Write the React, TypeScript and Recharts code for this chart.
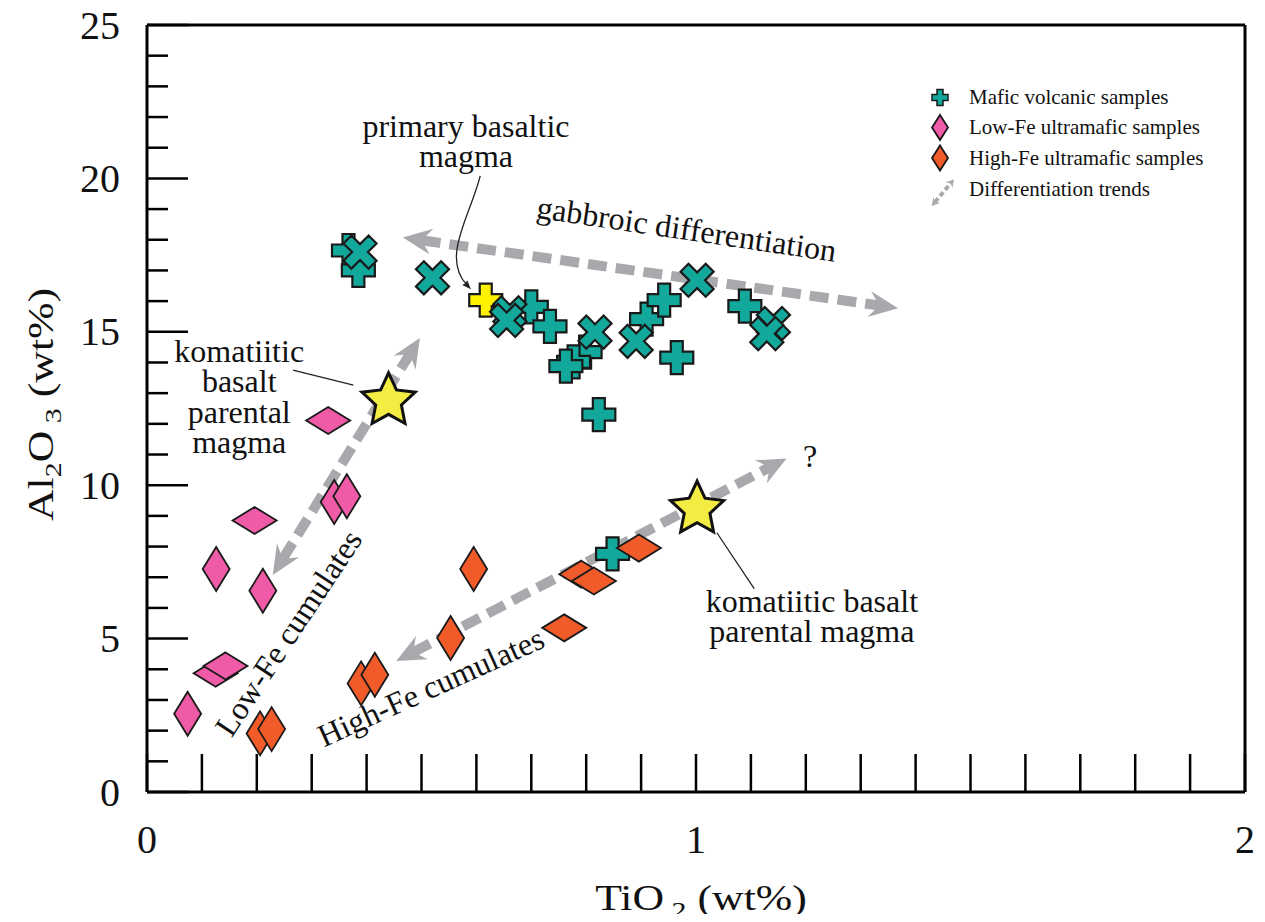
import { ScatterChart, Scatter, XAxis, YAxis, ReferenceLine, ReferenceDot } from 'recharts'

// axis ticks
const xTicks = [0, 0.1, 0.2, 0.3, 0.4, 0.5, 0.6, 0.7, 0.8, 0.9, 1, 1.1, 1.2, 1.3, 1.4, 1.5, 1.6, 1.7, 1.8, 1.9, 2]
const yTicks = [0, 1, 2, 3, 4, 5, 6, 7, 8, 9, 10, 11, 12, 13, 14, 15, 16, 17, 18, 19, 20, 21, 22, 23, 24, 25]
const xLabels = [0, 1, 2]
const yLabels = [0, 5, 10, 15, 20, 25]

// mafic volcanic samples, plus-shaped
const maficPlus = [
  { ti: 0.367, al: 17.65 },
  { ti: 0.385, al: 17.0 },
  { ti: 0.7, al: 15.81 },
  { ti: 0.734, al: 15.18 },
  { ti: 0.798, al: 14.34 },
  { ti: 0.777, al: 14.02 },
  { ti: 0.763, al: 13.88 },
  { ti: 0.823, al: 12.3 },
  { ti: 0.91, al: 15.41 },
  { ti: 0.942, al: 16.03 },
  { ti: 0.965, al: 14.16 },
  { ti: 1.089, al: 15.84 },
  { ti: 0.848, al: 7.76 },
]

// mafic volcanic samples, x-shaped
const maficCross = [
  { ti: 0.388, al: 17.6 },
  { ti: 0.52, al: 16.76 },
  { ti: 0.661, al: 15.62 },
  { ti: 0.655, al: 15.37 },
  { ti: 0.816, al: 14.99 },
  { ti: 0.891, al: 14.69 },
  { ti: 1.002, al: 16.68 },
  { ti: 1.141, al: 15.27 },
  { ti: 1.129, al: 14.94 },
]

const primaryMagma = [{ ti: 0.617, al: 16.03 }]
const parentalMagmas = [
  { ti: 0.44, al: 12.75 },
  { ti: 1.002, al: 9.22 },
]

const lowFeTall = [
  { ti: 0.341, al: 9.45 },
  { ti: 0.364, al: 9.64 },
  { ti: 0.126, al: 7.27 },
  { ti: 0.211, al: 6.56 },
  { ti: 0.074, al: 2.55 },
]
const lowFeWide = [
  { ti: 0.33, al: 12.11 },
  { ti: 0.196, al: 8.85 },
  { ti: 0.125, al: 3.87 },
  { ti: 0.143, al: 4.11 },
]
const highFeTall = [
  { ti: 0.595, al: 7.27 },
  { ti: 0.553, al: 5.02 },
  { ti: 0.39, al: 3.54 },
  { ti: 0.415, al: 3.82 },
  { ti: 0.206, al: 1.91 },
  { ti: 0.227, al: 2.05 },
]
const highFeWide = [
  { ti: 0.76, al: 5.35 },
  { ti: 0.791, al: 7.1 },
  { ti: 0.814, al: 6.88 },
  { ti: 0.896, al: 7.95 },
]

// differentiation trends (both ends arrowed)
const trends = [
  { from: { x: 0.466, y: 18.07 }, to: { x: 1.368, y: 15.77 } },
  { from: { x: 0.229, y: 7.07 }, to: { x: 0.497, y: 14.8 } },
  { from: { x: 0.454, y: 4.27 }, to: { x: 1.165, y: 10.87 } },
]

const leaders = [
  { from: { x: 0.266, y: 13.75 }, to: { x: 0.376, y: 13.26 } },
  { from: { x: 1.038, y: 8.45 }, to: { x: 1.106, y: 6.63 } },
]
const curvedLeader = { from: { x: 0.607, y: 20.08 }, to: { x: 0.59, y: 16.39 } }

const notes = [
  { ti: 0.581, al: 21.35, lines: ['primary basaltic', 'magma'], angle: 0 },
  { ti: 0.168, al: 14.03, lines: ['komatiitic', 'basalt', 'parental', 'magma'], angle: 0 },
  { ti: 1.211, al: 5.88, lines: ['komatiitic basalt', 'parental magma'], angle: 0 },
  { ti: 1.208, al: 10.59, lines: ['?'], angle: 0 },
  { ti: 0.98, al: 18.0, lines: ['gabbroic differentiation'], angle: 8.4 },
  { ti: 0.274, al: 4.99, lines: ['Low-Fe cumulates'], angle: -56.5 },
  { ti: 0.525, al: 3.1, lines: ['High-Fe cumulates'], angle: -24.4 },
]

const TEAL = '#13A89C'
const PINK = '#EF5BA6'
const ORANGE = '#F15A29'
const STAR = '#F2EC43'
const GREY = '#A7A9AC'
const FONT = '"Liberation Serif", serif'

function plusPoints(a: number, w: number) {
  return [
    [-a, -w], [-w, -w], [-w, -a], [w, -a], [w, -w], [a, -w],
    [a, w], [w, w], [w, a], [-w, a], [-w, w], [-a, w],
  ].map(p => p.join(',')).join(' ')
}

function PlusMark({ cx, cy, fill = TEAL }: { cx?: number; cy?: number; fill?: string }) {
  if (cx == null || cy == null) return null
  return (
    <polygon
      points={plusPoints(16.5, 6)}
      transform={`translate(${cx},${cy})`}
      fill={fill}
      stroke="#1a1a1a"
      strokeWidth={2.2}
    />
  )
}

function CrossMark({ cx, cy }: { cx?: number; cy?: number }) {
  if (cx == null || cy == null) return null
  return (
    <polygon
      points={plusPoints(17.8, 5.6)}
      transform={`translate(${cx},${cy}) rotate(45)`}
      fill={TEAL}
      stroke="#1a1a1a"
      strokeWidth={2.2}
    />
  )
}

function Diamond({ cx, cy, w, h, fill }: { cx?: number; cy?: number; w: number; h: number; fill: string }) {
  if (cx == null || cy == null) return null
  return (
    <polygon
      points={`${cx},${cy - h / 2} ${cx + w / 2},${cy} ${cx},${cy + h / 2} ${cx - w / 2},${cy}`}
      fill={fill}
      stroke="#1a1a1a"
      strokeWidth={1.8}
    />
  )
}

function StarMark({ cx, cy }: { cx?: number; cy?: number }) {
  if (cx == null || cy == null) return null
  const pts: string[] = []
  for (let i = 0; i < 10; i++) {
    const r = i % 2 === 0 ? 28 : 13.5
    const a = (Math.PI / 5) * i - Math.PI / 2
    pts.push(`${cx + r * Math.cos(a)},${cy + r * Math.sin(a)}`)
  }
  return <polygon points={pts.join(' ')} fill={STAR} stroke="#111" strokeWidth={3} />
}

function arrowHead(tx: number, ty: number, ux: number, uy: number, L: number, W: number, notch: number) {
  const nx = -uy
  const ny = ux
  const bx = tx - ux * L
  const by = ty - uy * L
  const mx = tx - ux * (L - notch)
  const my = ty - uy * (L - notch)
  return `${tx},${ty} ${bx + nx * W},${by + ny * W} ${mx},${my} ${bx - nx * W},${by - ny * W}`
}

function TrendArrow(props: { x1?: number; y1?: number; x2?: number; y2?: number; small?: boolean }) {
  const { x1, y1, x2, y2, small } = props
  if (x1 == null || y1 == null || x2 == null || y2 == null) return null
  const len = Math.hypot(x2 - x1, y2 - y1)
  const ux = (x2 - x1) / len
  const uy = (y2 - y1) / len
  const L = small ? 8 : 29
  const W = small ? 4.5 : 13
  const notch = small ? 3 : 10
  const back = L - notch
  return (
    <g>
      <line
        x1={x1 + ux * back}
        y1={y1 + uy * back}
        x2={x2 - ux * back}
        y2={y2 - uy * back}
        stroke={GREY}
        strokeWidth={small ? 4 : 10}
        strokeDasharray={small ? '5 3' : '19 9'}
      />
      <polygon points={arrowHead(x2, y2, ux, uy, L, W, notch)} fill={GREY} />
      <polygon points={arrowHead(x1, y1, -ux, -uy, L, W, notch)} fill={GREY} />
    </g>
  )
}

function CurvedLeader({ x1, y1, x2, y2 }: { x1?: number; y1?: number; x2?: number; y2?: number }) {
  if (x1 == null || y1 == null || x2 == null || y2 == null) return null
  const c1x = x1 - 10
  const c1y = y1 + 40
  const c2x = x2 - 30
  const c2y = y2 - 32
  const len = Math.hypot(x2 - c2x, y2 - c2y)
  const ux = (x2 - c2x) / len
  const uy = (y2 - c2y) / len
  return (
    <g>
      <path d={`M${x1},${y1} C${c1x},${c1y} ${c2x},${c2y} ${x2 - ux * 6},${y2 - uy * 6}`} fill="none" stroke="#222" strokeWidth={1.3} />
      <polygon points={arrowHead(x2, y2, ux, uy, 9, 3.5, 1)} fill="#222" />
    </g>
  )
}

function Note({ cx, cy, lines, angle }: { cx?: number; cy?: number; lines: string[]; angle: number }) {
  if (cx == null || cy == null) return null
  return (
    <text
      x={cx}
      y={cy}
      textAnchor="middle"
      fontFamily={FONT}
      fontSize={32}
      fill="#111"
      transform={angle ? `rotate(${angle} ${cx} ${cy})` : undefined}
    >
      {lines.map((l, i) => (
        <tspan key={i} x={cx} dy={i === 0 ? 0 : 30.5}>
          {l}
        </tspan>
      ))}
    </text>
  )
}

type TickProps = { x?: number; y?: number; payload?: { value: number } }

function BottomTick({ x = 0, y = 0, payload }: TickProps) {
  const v = payload?.value ?? 0
  return (
    <g>
      <line x1={x} y1={y} x2={x} y2={y - 38} stroke="#000" strokeWidth={2.5} />
      {xLabels.includes(v) && (
        <text x={x} y={y + 61} textAnchor="middle" fontFamily={FONT} fontSize={40} fill="#111">
          {v}
        </text>
      )}
    </g>
  )
}

function TopTick({ x = 0, y = 0 }: TickProps) {
  return <line x1={x} y1={y} x2={x} y2={y + 38} stroke="#000" strokeWidth={2.5} />
}

function LeftTick({ x = 0, y = 0, payload }: TickProps) {
  const v = payload?.value ?? 0
  const major = yLabels.includes(v)
  return (
    <g>
      <line x1={x} y1={y} x2={x + (major ? 41 : 21)} y2={y} stroke="#000" strokeWidth={2.5} />
      {major && (
        <text x={x - 27} y={y + 13.5} textAnchor="end" fontFamily={FONT} fontSize={40} fill="#111">
          {v}
        </text>
      )}
    </g>
  )
}

function RightTick({ x = 0, y = 0, payload }: TickProps) {
  const v = payload?.value ?? 0
  const major = yLabels.includes(v)
  return <line x1={x} y1={y} x2={x - (major ? 41 : 21)} y2={y} stroke="#000" strokeWidth={2.5} />
}

function XTitle({ viewBox }: { viewBox?: { x: number; y: number; width: number; height: number } }) {
  if (!viewBox) return null
  const cx = viewBox.x + viewBox.width / 2 + 5
  const by = viewBox.y + 118
  return (
    <text transform={`translate(${cx},${by}) scale(1.25,1)`} textAnchor="middle" fontFamily={FONT} fontSize={35} fill="#111">
      TiO
      <tspan fontSize={24} dy={8}> 2</tspan>
      <tspan dy={-8}> (wt%)</tspan>
    </text>
  )
}

function YTitle({ viewBox }: { viewBox?: { x: number; y: number; width: number; height: number } }) {
  if (!viewBox) return null
  const cy = viewBox.y + viewBox.height / 2 - 4
  return (
    <text transform={`translate(45,${cy}) rotate(-90) scale(1.25,1)`} textAnchor="middle" fontFamily={FONT} fontSize={35} fill="#111">
      Al
      <tspan fontSize={24} dy={8}>2</tspan>
      <tspan dy={-8}>O</tspan>
      <tspan fontSize={24} dy={8}> 3</tspan>
      <tspan dy={-8}> (wt%)</tspan>
    </text>
  )
}

function LegendBox() {
  const rows = [
    'Mafic volcanic samples',
    'Low-Fe ultramafic samples',
    'High-Fe ultramafic samples',
    'Differentiation trends',
  ]
  return (
    <svg width={320} height={140} style={{ position: 'absolute', left: 900, top: 75 }}>
      <polygon points={plusPoints(8, 3)} transform="translate(32,14.5)" fill={TEAL} stroke="#1a1a1a" strokeWidth={1.5} />
      <Diamond cx={32} cy={44.5} w={16} h={25} fill={PINK} />
      <Diamond cx={32} cy={75} w={16} h={25} fill={ORANGE} />
      <TrendArrow x1={23.7} y1={123} x2={46} y2={96.3} small />
      {rows.map(r => r).map((r, i) => (
        <text key={r} x={61} y={20.5 + i * 30.8} fontFamily={FONT} fontSize={21} fill="#111">
          {r}
        </text>
      ))}
    </svg>
  )
}

export default function App() {
  return (
    <div style={{ position: 'relative', width: 1249, height: 906 }}>
      <ScatterChart width={1249} height={914} margin={{ top: 0, right: 0, bottom: 0, left: 0 }}>
        <XAxis
          type="number"
          dataKey="ti"
          domain={[0, 2]}
          ticks={xTicks}
          interval={0}
          tickSize={0}
          tickMargin={0}
          height={130}
          axisLine={{ stroke: '#000', strokeWidth: 3 }}
          tick={<BottomTick />}
          label={{ content: <XTitle /> }}
        />
        <XAxis
          xAxisId="top"
          orientation="top"
          type="number"
          dataKey="ti"
          domain={[0, 2]}
          ticks={xTicks}
          interval={0}
          tickSize={0}
          tickMargin={0}
          height={17}
          axisLine={{ stroke: '#000', strokeWidth: 3 }}
          tick={<TopTick />}
        />
        <YAxis
          type="number"
          dataKey="al"
          domain={[0, 25]}
          ticks={yTicks}
          interval={0}
          tickSize={0}
          tickMargin={0}
          width={139}
          axisLine={{ stroke: '#000', strokeWidth: 3 }}
          tick={<LeftTick />}
          label={{ content: <YTitle /> }}
        />
        <YAxis
          yAxisId="right"
          orientation="right"
          type="number"
          dataKey="al"
          domain={[0, 25]}
          ticks={yTicks}
          interval={0}
          tickSize={0}
          tickMargin={0}
          width={12}
          axisLine={{ stroke: '#000', strokeWidth: 3 }}
          tick={<RightTick />}
        />

        {trends.map((t, i) => (
          <ReferenceLine key={`trend-${i}`} segment={[t.from, t.to]} shape={(p: any) => <TrendArrow {...p} />} />
        ))}
        {leaders.map((l, i) => (
          <ReferenceLine key={`lead-${i}`} segment={[l.from, l.to]} stroke="#222" strokeWidth={1.3} />
        ))}
        <ReferenceLine segment={[curvedLeader.from, curvedLeader.to]} shape={(p: any) => <CurvedLeader {...p} />} />

        <Scatter data={primaryMagma} isAnimationActive={false} shape={(p: any) => <PlusMark {...p} fill="#FFF200" />} />
        <Scatter data={maficPlus} isAnimationActive={false} shape={(p: any) => <PlusMark {...p} />} />
        <Scatter data={maficCross} isAnimationActive={false} shape={(p: any) => <CrossMark {...p} />} />
        <Scatter data={lowFeWide} isAnimationActive={false} shape={(p: any) => <Diamond {...p} w={44} h={27} fill={PINK} />} />
        <Scatter data={lowFeTall} isAnimationActive={false} shape={(p: any) => <Diamond {...p} w={27} h={44} fill={PINK} />} />
        <Scatter data={highFeTall} isAnimationActive={false} shape={(p: any) => <Diamond {...p} w={27} h={44} fill={ORANGE} />} />
        <Scatter data={highFeWide} isAnimationActive={false} shape={(p: any) => <Diamond {...p} w={44} h={27} fill={ORANGE} />} />
        <Scatter data={parentalMagmas} isAnimationActive={false} shape={(p: any) => <StarMark {...p} />} />

        {notes.map((n, i) => (
          <ReferenceDot
            key={`note-${i}`}
            x={n.ti}
            y={n.al}
            r={1}
            shape={(p: any) => <Note cx={p.cx} cy={p.cy} lines={n.lines} angle={n.angle} />}
          />
        ))}
      </ScatterChart>
      <LegendBox />
    </div>
  )
}
